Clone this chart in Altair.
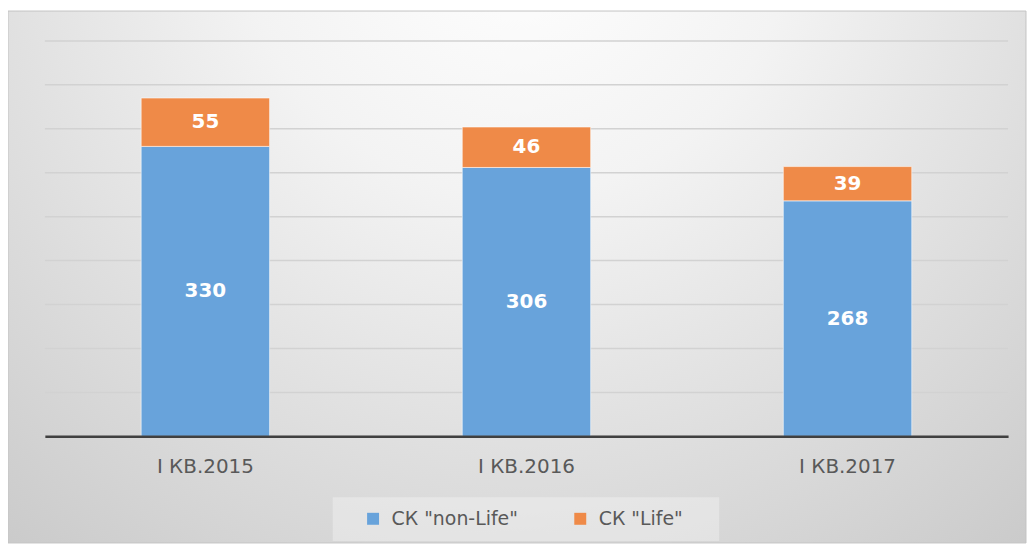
import altair as alt
import pandas as pd

quarters = ["I КВ.2015", "I КВ.2016", "I КВ.2017"]
series = ['СК "non-Life"', 'СК "Life"']
non_life = [330, 306, 268]
life = [55, 46, 39]
grid_values = [0, 50, 100, 150, 200, 250, 300, 350, 400, 450]
colors = ["#68A3DB", "#EF8A48"]

rows = []
for i, q in enumerate(quarters):
    rows.append({"quarter": q, "series": series[0], "value": non_life[i], "ord": 0})
    rows.append({"quarter": q, "series": series[1], "value": life[i], "ord": 1})
df = pd.DataFrame(rows)
grid_df = pd.DataFrame({"g": grid_values})

W, H = 967, 397
yscale = alt.Scale(domain=[0, 450], nice=False, zero=True)
xenc = alt.X(
    "quarter:N",
    sort=quarters,
    scale=alt.Scale(paddingInner=0.6, paddingOuter=0.3),
    axis=alt.Axis(
        title=None, labelAngle=0, labelFont="DejaVu Sans", labelFontSize=20,
        labelColor="#595959", labelPadding=20, ticks=False, tickSize=0,
        domainColor="#404040", domainWidth=2.5, grid=False, zindex=1,
    ),
)

bg = alt.Chart(pd.DataFrame({"k": [0]})).mark_rect(
    fill=alt.RadialGradient(
        gradient="radial",
        stops=[
            alt.GradientStop(color="#ffffff", offset=0),
            alt.GradientStop(color="#f3f3f3", offset=0.3),
            alt.GradientStop(color="#c2c2c2", offset=1),
        ],
        x1=0.5, y1=0.15, r1=0, x2=0.5, y2=0.15, r2=0.9,
    ),
    stroke="#c4c4c4", strokeWidth=1,
).encode(x=alt.value(-37), x2=alt.value(985), y=alt.value(-30), y2=alt.value(504))

grid = alt.Chart(grid_df).mark_rule(color="#d2d2d2", strokeWidth=1.5).encode(
    y=alt.Y("g:Q", scale=yscale, axis=None),
    x=alt.value(0), x2=alt.value(W),
)

legend_box = alt.Chart(pd.DataFrame({"k": [0]})).mark_rect(
    fill="#ffffff", fillOpacity=0.3
).encode(x=alt.value(289), x2=alt.value(677), y=alt.value(458), y2=alt.value(502))

base = alt.Chart(df).transform_stack(
    stack="value", groupby=["quarter"], as_=["y0", "y1"],
    sort=[alt.SortField("ord", order="ascending")],
).transform_calculate(mid="(datum.y0 + datum.y1) / 2")

bars = base.mark_bar(stroke="white", strokeWidth=0.8, strokeOpacity=0.7).encode(
    x=xenc,
    y=alt.Y("y0:Q", scale=yscale, axis=None),
    y2="y1:Q",
    color=alt.Color(
        "series:N",
        scale=alt.Scale(domain=series, range=colors),
        legend=alt.Legend(
            title=None, orient="none", legendX=320, legendY=470,
            direction="horizontal", symbolType="square", symbolSize=144,
            symbolStrokeWidth=0, labelFont="DejaVu Sans", labelFontSize=19,
            labelColor="#595959", columnPadding=52, labelOffset=9, padding=0,
        ),
    ),
)

labels = base.mark_text(
    font="DejaVu Sans", fontWeight="bold", fontSize=20, color="white", baseline="middle"
).encode(
    x=xenc,
    y=alt.Y("mid:Q", scale=yscale, axis=None),
    text="value:Q",
)

chart = alt.layer(bg, grid, legend_box, bars, labels).properties(
    width=W, height=H,
    autosize=alt.AutoSizeParams(type="none"),
    padding={"left": 37, "top": 32, "right": 20, "bottom": 107},
    background="white",
).configure_view(stroke=None)

chart.save("out.html", embed_options={"renderer": "svg", "actions": False})
